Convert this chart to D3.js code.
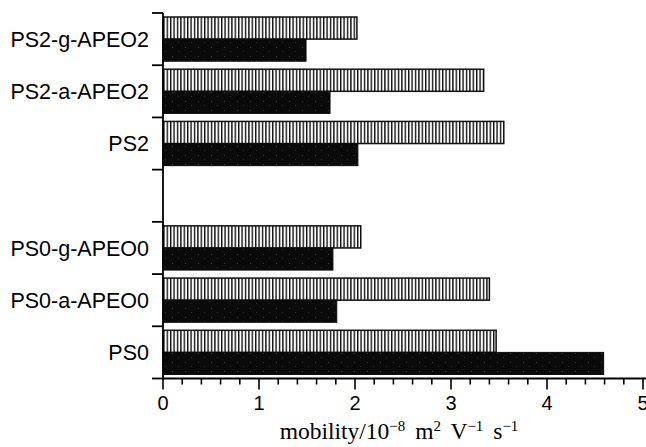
<!DOCTYPE html>
<html>
<head>
<meta charset="utf-8">
<script src="https://cdn.jsdelivr.net/npm/d3@7"></script>
<style>
  body { margin: 0; background: #fff; }
  svg { display: block; }
</style>
</head>
<body>
<div class="chart"></div>
<script>
// groups top to bottom, 'gap' is the empty slot between the PS2 and PS0 groups
var categories = ['PS2-g-APEO2', 'PS2-a-APEO2', 'PS2', 'gap', 'PS0-g-APEO0', 'PS0-a-APEO0', 'PS0'];
var hatchedValues = [2.02, 3.34, 3.55, null, 2.06, 3.40, 3.47];
var darkValues = [1.49, 1.74, 2.03, null, 1.77, 1.81, 4.59];
var tickValues = [0, 1, 2, 3, 4, 5];
var tickLabels = ['0', '1', '2', '3', '4', '5'];

var chart = {

	init: function() {
		var w = 646;
		var h = 447;
		chart.svg = d3.select('.chart')
			.append('svg')
			.attr('width', w)
			.attr('height', h);

		chart.x = d3.scaleLinear().domain([0, 5]).range([163, 643]);
		chart.y = d3.scaleBand().domain(categories).range([13, 378.5]).paddingInner(0);
		chart.inner = d3.scaleBand().domain(['hatched', 'dark'])
			.range([4, chart.y.bandwidth() - 4]);

		chart.patterns();
		chart.bars();
		chart.axes();
	},

	patterns: function() {
		var defs = chart.svg.append('defs');

		var hatch = defs.append('pattern')
			.attr('id', 'hatch')
			.attr('patternUnits', 'userSpaceOnUse')
			.attr('width', 3.4)
			.attr('height', 10);
		hatch.append('rect').attr('width', 3.4).attr('height', 10).attr('fill', '#fff');
		hatch.append('rect').attr('x', 0).attr('width', 1.4).attr('height', 10).attr('fill', '#111');

		// dark fill with a few faint grey specks
		var dark = defs.append('pattern')
			.attr('id', 'dark')
			.attr('patternUnits', 'userSpaceOnUse')
			.attr('width', 13)
			.attr('height', 9);
		dark.append('rect').attr('width', 13).attr('height', 9).attr('fill', '#0a0a0a');
		dark.append('rect').attr('x', 3).attr('y', 2).attr('width', 1).attr('height', 1).attr('fill', '#3a3a3a');
		dark.append('rect').attr('x', 9).attr('y', 6).attr('width', 1).attr('height', 1).attr('fill', '#2c2c2c');
	},

	bars: function() {
		var x = chart.x, y = chart.y, inner = chart.inner;
		var rows = categories.map(function(c, i) {
			return {cat: c, hatched: hatchedValues[i], dark: darkValues[i]};
		}).filter(function(d) { return d.hatched !== null; });

		chart.svg.selectAll('rect.hatched')
			.data(rows)
			.enter()
			.append('rect')
			.attr('class', 'hatched')
			.attr('x', x(0))
			.attr('y', function(d) { return y(d.cat) + inner('hatched'); })
			.attr('width', function(d) { return x(d.hatched) - x(0); })
			.attr('height', inner.bandwidth())
			.attr('fill', 'url(#hatch)')
			.attr('stroke', '#111')
			.attr('stroke-width', 1.5);

		chart.svg.selectAll('rect.dark')
			.data(rows)
			.enter()
			.append('rect')
			.attr('class', 'dark')
			.attr('x', x(0))
			.attr('y', function(d) { return y(d.cat) + inner('dark'); })
			.attr('width', function(d) { return x(d.dark) - x(0); })
			.attr('height', inner.bandwidth())
			.attr('fill', 'url(#dark)')
			.attr('stroke', '#0a0a0a')
			.attr('stroke-width', 1);
	},

	axes: function() {
		var x = chart.x, y = chart.y;
		var svg = chart.svg;
		var y0 = y.range()[1];

		// y axis line and ticks at the band edges
		svg.append('line')
			.attr('x1', x(0)).attr('x2', x(0))
			.attr('y1', y.range()[0]).attr('y2', y0)
			.attr('stroke', '#000').attr('stroke-width', 1.8);

		var edges = categories.map(function(c) { return y(c); }).concat([y0]);
		svg.selectAll('line.ytick')
			.data(edges)
			.enter()
			.append('line')
			.attr('class', 'ytick')
			.attr('x1', x(0) - 11).attr('x2', x(0))
			.attr('y1', function(d) { return d; })
			.attr('y2', function(d) { return d; })
			.attr('stroke', '#000').attr('stroke-width', 1.8);

		svg.selectAll('text.ylab')
			.data(categories.filter(function(c) { return c !== 'gap'; }))
			.enter()
			.append('text')
			.attr('class', 'ylab')
			.attr('x', 149)
			.attr('y', function(d) { return y(d) + y.bandwidth() / 2; })
			.attr('dy', '0.36em')
			.attr('text-anchor', 'end')
			.attr('font-family', 'Liberation Sans, Arial, sans-serif')
			.attr('font-size', '21.5px')
			.attr('fill', '#000')
			.text(function(d) { return d; });

		// x axis
		svg.append('line')
			.attr('x1', x(0)).attr('x2', 646)
			.attr('y1', y0).attr('y2', y0)
			.attr('stroke', '#000').attr('stroke-width', 1.8);

		svg.selectAll('line.minor')
			.data(x.ticks(25))
			.enter()
			.append('line')
			.attr('class', 'minor')
			.attr('x1', function(d) { return x(d); })
			.attr('x2', function(d) { return x(d); })
			.attr('y1', y0)
			.attr('y2', function(d) { return Math.abs(d - Math.round(d)) < 1e-6 ? y0 + 11 : y0 + 6; })
			.attr('stroke', '#000').attr('stroke-width', 1.6);

		svg.selectAll('text.xlab')
			.data(tickValues)
			.enter()
			.append('text')
			.attr('class', 'xlab')
			.attr('x', function(d) { return x(d); })
			.attr('y', 410)
			.attr('text-anchor', 'middle')
			.attr('font-family', 'Liberation Sans, Arial, sans-serif')
			.attr('font-size', '20px')
			.attr('fill', '#000')
			.text(function(d, i) { return tickLabels[i]; });

		var title = svg.append('text')
			.attr('x', 399)
			.attr('y', 439)
			.attr('text-anchor', 'middle')
			.attr('font-family', 'Liberation Serif, Times New Roman, serif')
			.attr('font-size', '23.5px')
			.attr('word-spacing', '4px')
			.attr('fill', '#000');
		title.append('tspan').text('mobility/10');
		title.append('tspan').attr('dy', -8).attr('font-size', '15px').text('\u22128');
		title.append('tspan').attr('dy', 8).text(' m');
		title.append('tspan').attr('dy', -8).attr('font-size', '15px').text('2');
		title.append('tspan').attr('dy', 8).text(' V');
		title.append('tspan').attr('dy', -8).attr('font-size', '15px').text('\u22121');
		title.append('tspan').attr('dy', 8).text(' s');
		title.append('tspan').attr('dy', -8).attr('font-size', '15px').text('\u22121');
	}
};

chart.init();
</script>
</body>
</html>
